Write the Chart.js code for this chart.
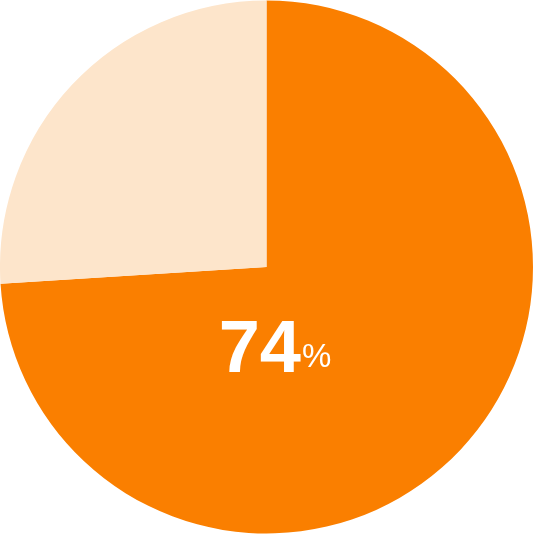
<!DOCTYPE html>
<html>
<head>
<meta charset="utf-8">
<script src="https://cdn.jsdelivr.net/npm/chart.js@4"></script>
<style>
  html, body { margin: 0; padding: 0; background: #fff; }
  #wrap { width: 533px; height: 534px; }
</style>
</head>
<body>
<div id="wrap"><canvas id="pie" width="533" height="534"></canvas></div>
<script>
const labels = ['Yes', 'No'];
const values = [74, 26];
const colors = ['#FA7F00', '#FDE5CB'];
const centerLabel = '74';

// draws the big percentage on top of the pie
const centerText = {
  id: 'centerText',
  afterDraw(chart) {
    const ctx = chart.ctx;
    const arc = chart.getDatasetMeta(0).data[0];
    const cx = arc.x, cy = arc.y;
    ctx.save();
    ctx.fillStyle = '#fff';
    ctx.textBaseline = 'alphabetic';
    ctx.font = 'bold 74px "Liberation Sans", Arial, sans-serif';
    const w1 = ctx.measureText(centerLabel).width;
    ctx.font = '33px "Liberation Sans", Arial, sans-serif';
    const w2 = ctx.measureText('%').width;
    const x0 = cx + 8 - (w1 + w2) / 2;
    ctx.font = 'bold 74px "Liberation Sans", Arial, sans-serif';
    ctx.textAlign = 'left';
    ctx.fillText(centerLabel, x0, cy + 105);
    ctx.font = '33px "Liberation Sans", Arial, sans-serif';
    ctx.fillText('%', x0 + w1 + 1, cy + 100);
    ctx.restore();
  }
};

new Chart(document.getElementById('pie'), {
  type: 'pie',
  data: {
    labels: labels,
    datasets: [{
      data: values,
      backgroundColor: colors,
      borderWidth: 0
    }]
  },
  options: {
    responsive: false,
    animation: false,
    layout: { padding: 0 },
    plugins: {
      legend: { display: false },
      tooltip: { enabled: false }
    }
  },
  plugins: [centerText]
});
</script>
</body>
</html>
